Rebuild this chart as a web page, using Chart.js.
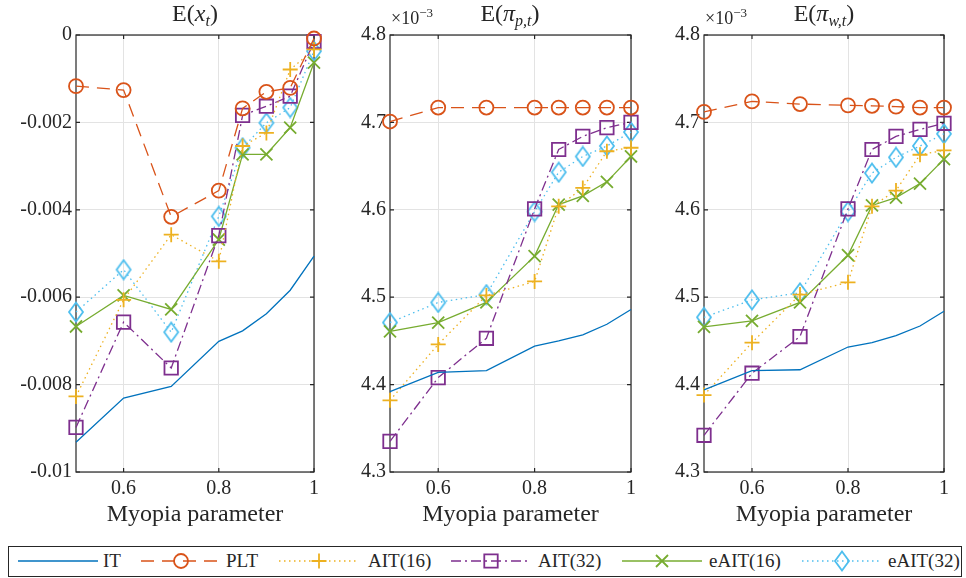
<!DOCTYPE html>
<html>
<head>
<meta charset="utf-8">
<script src="https://cdn.jsdelivr.net/npm/chart.js@4.4.1/dist/chart.umd.min.js"></script>
<style>
  body { margin:0; background:#fff; width:966px; height:578px; position:relative; overflow:hidden;
         font-family:"Liberation Serif", "DejaVu Serif", serif; color:#262626; }
  canvas.panel { position:absolute; top:0; }
  .title { position:absolute; top:0px; font-size:24px; transform:translateX(-50%); white-space:nowrap; }
  .title sub { font-size:16px; vertical-align:-5px; }
  .expo { position:absolute; top:5px; font-size:18px; white-space:nowrap; }
  .expo sup { font-size:13px; vertical-align:7px; }
  #legend { position:absolute; left:8px; top:546px; width:954px; height:31px; border:1px solid #262626;
            box-sizing:border-box; }
  .lg-sample { position:absolute; top:2px; }
  .lg-text { position:absolute; top:3px; font-size:19px; white-space:nowrap; }
</style>
</head>
<body>
<canvas id="panelX" class="panel" width="330" height="540" style="left:0"></canvas>
<canvas id="panelP" class="panel" width="320" height="540" style="left:330px"></canvas>
<canvas id="panelW" class="panel" width="316" height="540" style="left:650px"></canvas>

<div class="title" style="left:195px">E(<i>x</i><sub><i>t</i></sub>)</div>
<div class="title" style="left:510px">E(<i>π</i><sub><i>p,t</i></sub>)</div>
<div class="title" style="left:824px">E(<i>π</i><sub><i>w,t</i></sub>)</div>
<div class="expo" style="left:391px">×10<sup>−3</sup></div>
<div class="expo" style="left:705px">×10<sup>−3</sup></div>

<div id="legend"></div>

<script>
// x axis: myopia parameter
const myopia = [0.5, 0.6, 0.7, 0.8, 0.85, 0.9, 0.95, 1];
const xTickVals = [0.6, 0.8, 1];
const seriesNames = ['IT', 'PLT', 'AIT(16)', 'AIT(32)', 'eAIT(16)', 'eAIT(32)'];

// E(x_t)
const xIT     = [-0.00932, -0.00831, -0.00804, -0.00701, -0.00677, -0.00638, -0.00584, -0.00506];
const xPLT    = [-0.00117, -0.00126, -0.00416, -0.00356, -0.00168, -0.00130, -0.00121, -0.00008];
const xAIT16  = [-0.00827, -0.00606, -0.00457, -0.00518, -0.00254, -0.00224, -0.00079, -0.00033];
const xAIT32  = [-0.00898, -0.00657, -0.00762, -0.00459, -0.00184, -0.00163, -0.00140, -0.00015];
const xEAIT16 = [-0.00667, -0.00596, -0.00628, -0.00468, -0.00273, -0.00273, -0.00212, -0.00063];
const xEAIT32 = [-0.00634, -0.00537, -0.00680, -0.00415, -0.00258, -0.00201, -0.00166, -0.00037];
const xYTicks = [-0.01, -0.008, -0.006, -0.004, -0.002, 0];

// E(pi_{p,t}), in units of 1e-3
const pIT     = [4.392, 4.414, 4.416, 4.444, 4.450, 4.457, 4.469, 4.486];
const pPLT    = [4.701, 4.717, 4.717, 4.717, 4.717, 4.717, 4.717, 4.717];
const pAIT16  = [4.382, 4.446, 4.502, 4.518, 4.604, 4.625, 4.667, 4.671];
const pAIT32  = [4.335, 4.408, 4.453, 4.601, 4.669, 4.684, 4.694, 4.700];
const pEAIT16 = [4.461, 4.471, 4.494, 4.547, 4.606, 4.616, 4.632, 4.661];
const pEAIT32 = [4.471, 4.494, 4.503, 4.598, 4.643, 4.661, 4.673, 4.689];

// E(pi_{w,t}), in units of 1e-3
const wIT     = [4.394, 4.416, 4.417, 4.443, 4.448, 4.456, 4.467, 4.484];
const wPLT    = [4.712, 4.724, 4.721, 4.7195, 4.719, 4.718, 4.717, 4.717];
const wAIT16  = [4.388, 4.448, 4.503, 4.517, 4.604, 4.622, 4.663, 4.668];
const wAIT32  = [4.342, 4.413, 4.455, 4.601, 4.669, 4.684, 4.692, 4.699];
const wEAIT16 = [4.466, 4.473, 4.494, 4.548, 4.605, 4.614, 4.630, 4.658];
const wEAIT32 = [4.477, 4.497, 4.505, 4.598, 4.642, 4.660, 4.673, 4.687];
const piYTicks = [4.3, 4.4, 4.5, 4.6, 4.7, 4.8];

const INK = '#262626';
const FONT = 'Liberation Serif';
Chart.defaults.font.family = FONT;
Chart.defaults.color = INK;

// matlab draws its diamond a bit taller than wide
function diamondMarker(color) {
  const cv = document.createElement('canvas');
  cv.width = 18; cv.height = 22;
  const c = cv.getContext('2d');
  c.strokeStyle = color;
  c.lineWidth = 1.8;
  c.beginPath();
  c.moveTo(9, 1.5); c.lineTo(16, 11); c.lineTo(9, 20.5); c.lineTo(2, 11);
  c.closePath();
  c.stroke();
  return cv;
}

// matlab-ish line styles
const styles = [
  { color: '#0072BD', dash: [],            point: false,      radius: 0 },
  { color: '#D95319', dash: [13, 8],       point: 'circle',   radius: 7 },
  { color: '#EDB120', dash: [1.5, 3.5],    point: 'cross',    radius: 7.5 },
  { color: '#7E2F8E', dash: [10, 4, 2, 4], point: 'rect',     radius: 9.5 },
  { color: '#77AC30', dash: [],            point: 'crossRot', radius: 8.5 },
  { color: '#4DBEEE', dash: [1.5, 3.5],    point: 'diamond',  radius: 9 }
];
const diamondImg = diamondMarker(styles[5].color);

const boxPlugin = {
  id: 'box',
  beforeDatasetsDraw(chart) {
    const { ctx, chartArea: a, scales } = chart;
    ctx.save();
    ctx.strokeStyle = INK;
    ctx.lineWidth = 1.2;
    ctx.strokeRect(a.left, a.top, a.right - a.left, a.bottom - a.top);
    ctx.beginPath();
    scales.x.ticks.forEach(t => {
      const px = scales.x.getPixelForValue(t.value);
      ctx.moveTo(px, a.bottom); ctx.lineTo(px, a.bottom - 4);
      ctx.moveTo(px, a.top); ctx.lineTo(px, a.top + 4);
    });
    scales.y.ticks.forEach(t => {
      const py = scales.y.getPixelForValue(t.value);
      ctx.moveTo(a.left, py); ctx.lineTo(a.left + 4, py);
      ctx.moveTo(a.right, py); ctx.lineTo(a.right - 4, py);
    });
    ctx.stroke();
    ctx.restore();
  }
};

function fmtNum(v) {
  const s = String(+v.toFixed(4));
  return s === '-0' ? '0' : s;
}

function makePanel(id, sets, yTicks, yWidth, padRight) {
  const datasets = sets.map((vals, i) => {
    const st = styles[i];
    return {
      label: seriesNames[i],
      data: myopia.map((x, j) => ({ x: x, y: vals[j] })),
      borderColor: st.color,
      backgroundColor: 'rgba(0,0,0,0)',
      borderWidth: 1.3,
      borderDash: st.dash,
      pointStyle: st.point === 'diamond' ? diamondImg : st.point,
      pointRadius: st.radius,
      pointBorderWidth: 1.8,
      pointBorderColor: st.color,
      pointBackgroundColor: 'rgba(0,0,0,0)',
      tension: 0,
      clip: false
    };
  });

  return new Chart(document.getElementById(id), {
    type: 'line',
    data: { datasets: datasets },
    options: {
      responsive: false,
      animation: false,
      layout: { padding: { top: 35, right: padRight, bottom: 0, left: 0 } },
      plugins: { legend: { display: false }, tooltip: { enabled: false } },
      scales: {
        x: {
          type: 'linear',
          min: 0.5,
          max: 1,
          afterBuildTicks: s => { s.ticks = xTickVals.map(v => ({ value: v })); },
          afterFit: s => { s.height = 68; },
          ticks: { color: INK, font: { family: FONT, size: 20 }, padding: 5, maxRotation: 0,
                   callback: v => fmtNum(v) },
          grid: { color: '#e3e3e3', lineWidth: 1, drawTicks: false },
          border: { display: false },
          title: { display: true, text: 'Myopia parameter', color: INK,
                   font: { family: FONT, size: 24 }, padding: { top: 0, bottom: 11 } }
        },
        y: {
          min: yTicks[0],
          max: yTicks[yTicks.length - 1],
          afterBuildTicks: s => { s.ticks = yTicks.map(v => ({ value: v })); },
          afterFit: s => { s.width = yWidth; },
          ticks: { color: INK, font: { family: FONT, size: 20 }, padding: 4,
                   callback: v => fmtNum(v) },
          grid: { color: '#e3e3e3', lineWidth: 1, drawTicks: false },
          border: { display: false }
        }
      }
    },
    plugins: [boxPlugin]
  });
}

// legend: sample line + marker, then the label
function drawMarker(ctx, st, x, y) {
  const r = st.radius;
  if (st.point === 'diamond') {
    ctx.drawImage(diamondImg, x - diamondImg.width / 2, y - diamondImg.height / 2);
    return;
  }
  ctx.setLineDash([]);
  ctx.lineWidth = 1.8;
  ctx.beginPath();
  if (st.point === 'circle') {
    ctx.arc(x, y, r, 0, Math.PI * 2);
  } else if (st.point === 'cross') {
    ctx.moveTo(x - r, y); ctx.lineTo(x + r, y);
    ctx.moveTo(x, y - r); ctx.lineTo(x, y + r);
  } else if (st.point === 'rect') {
    const h = r * Math.SQRT1_2;
    ctx.rect(x - h, y - h, 2 * h, 2 * h);
  } else if (st.point === 'crossRot') {
    const h = r * Math.SQRT1_2;
    ctx.moveTo(x - h, y - h); ctx.lineTo(x + h, y + h);
    ctx.moveTo(x - h, y + h); ctx.lineTo(x + h, y - h);
  }
  ctx.stroke();
}

function buildLegend() {
  const legend = document.getElementById('legend');
  const sampleLeft = [9, 132, 270, 442, 613, 793];
  const textLeft = [94, 217, 359, 529, 700, 879];
  seriesNames.forEach((name, i) => {
    const st = styles[i];
    const cv = document.createElement('canvas');
    cv.width = 80; cv.height = 24;
    cv.className = 'lg-sample';
    cv.style.left = sampleLeft[i] + 'px';
    legend.appendChild(cv);
    const ctx = cv.getContext('2d');
    ctx.strokeStyle = st.color;
    ctx.lineWidth = 1.3;
    ctx.setLineDash(st.dash);
    ctx.beginPath();
    ctx.moveTo(0, 12); ctx.lineTo(80, 12);
    ctx.stroke();
    if (st.point) drawMarker(ctx, st, 40, 12);
    const tx = document.createElement('div');
    tx.className = 'lg-text';
    tx.style.left = textLeft[i] + 'px';
    tx.textContent = name;
    legend.appendChild(tx);
  });
}

function drawAll() {
  makePanel('panelX', [xIT, xPLT, xAIT16, xAIT32, xEAIT16, xEAIT32], xYTicks, 76, 16);
  makePanel('panelP', [pIT, pPLT, pAIT16, pAIT32, pEAIT16, pEAIT32], piYTicks, 60, 19);
  makePanel('panelW', [wIT, wPLT, wAIT16, wAIT32, wEAIT16, wEAIT32], piYTicks, 54, 22);
  buildLegend();
}

document.fonts.load('20px "Liberation Serif"').then(drawAll, drawAll);
</script>
</body>
</html>
